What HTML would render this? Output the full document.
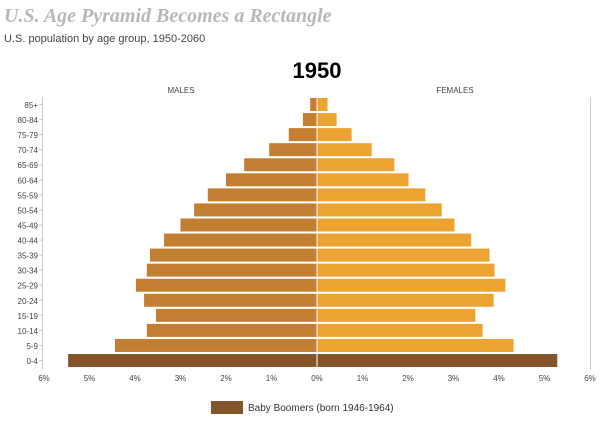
<!DOCTYPE html>
<html><head><meta charset="utf-8"><style>
body{margin:0;background:#fff;width:600px;height:417px;overflow:hidden;font-family:"Liberation Sans",sans-serif}
</style></head><body>
<svg width="600" height="417" id="c">
<text x="4" y="22" font-family="Liberation Serif" font-style="italic" font-weight="bold" font-size="20" fill="#b8b8b8">U.S. Age Pyramid Becomes a Rectangle</text>
<text x="4" y="42" font-size="11" fill="#444">U.S. population by age group, 1950-2060</text>
<text x="317" y="78" text-anchor="middle" font-size="22" font-weight="bold" fill="#000">1950</text>
<text x="181" y="93" text-anchor="middle" font-size="8" fill="#444">MALES</text>
<text x="455" y="93" text-anchor="middle" font-size="8" fill="#444">FEMALES</text>
<line x1="42.5" y1="97" x2="42.5" y2="369" stroke="#ccc"/>
<line x1="590.5" y1="97" x2="590.5" y2="369" stroke="#ccc"/>
<g id="bars"></g><g id="ticks"></g>
<rect x="211" y="401" width="32" height="13" fill="#84552a"/>
<text x="248" y="411" font-size="10" fill="#333">Baby Boomers (born 1946-1964)</text>
</svg>
<script>
const ages=["85+","80-84","75-79","70-74","65-69","60-64","55-59","50-54","45-49","40-44","35-39","30-34","25-29","20-24","15-19","10-14","5-9","0-4"];
const males=[0.15,0.31,0.62,1.05,1.6,2.0,2.4,2.7,3.0,3.36,3.67,3.74,3.98,3.8,3.54,3.74,4.44,5.47];
const females=[0.22,0.42,0.75,1.19,1.69,2.0,2.37,2.73,3.01,3.38,3.78,3.89,4.13,3.87,3.47,3.63,4.31,5.27];
const boomer=[0,0,0,0,0,0,0,0,0,0,0,0,0,0,0,0,0,1];
const xTicks=[6,5,4,3,2,1,0,1,2,3,4,5,6];
const NS="http://www.w3.org/2000/svg";
const cx=317,pp=45.5,y0=98,step=15.06,bh=13;
const xs=v=>v*pp, ys=i=>y0+i*step;
const bars=document.getElementById('bars'),ticks=document.getElementById('ticks');
function mk(t,a,p){const e=document.createElementNS(NS,t);for(const k in a)e.setAttribute(k,a[k]);p.appendChild(e);return e;}
ages.forEach((a,i)=>{
  const y=ys(i);
  const m=mk('rect',{x:cx-xs(males[i]),y:y,width:xs(males[i])-0.5,height:bh,fill:boomer[i]?'#84552a':'#c27f32'},bars);
  
  
  const f=mk('rect',{x:cx+0.5,y:y,width:xs(females[i]),height:bh,fill:boomer[i]?'#84552a':'#eba331'},bars);
  
  
  const t=mk('text',{x:38,y:y+10,'text-anchor':'end','font-size':8,fill:'#444'},ticks);
  t.textContent=a;
  
  
  const tk=mk('line',{x1:39,x2:42,y1:y+6.5,y2:y+6.5,stroke:'#ccc'},ticks);
  
  
});
xTicks.forEach((v,i)=>{
  const x=cx+(i<6?-1:1)*xs(v);
  const t=mk('text',{x:x,y:381,'text-anchor':'middle','font-size':8,fill:'#444'},ticks);
  t.textContent=v+'%';
  
  
});
</script>
</body></html>
